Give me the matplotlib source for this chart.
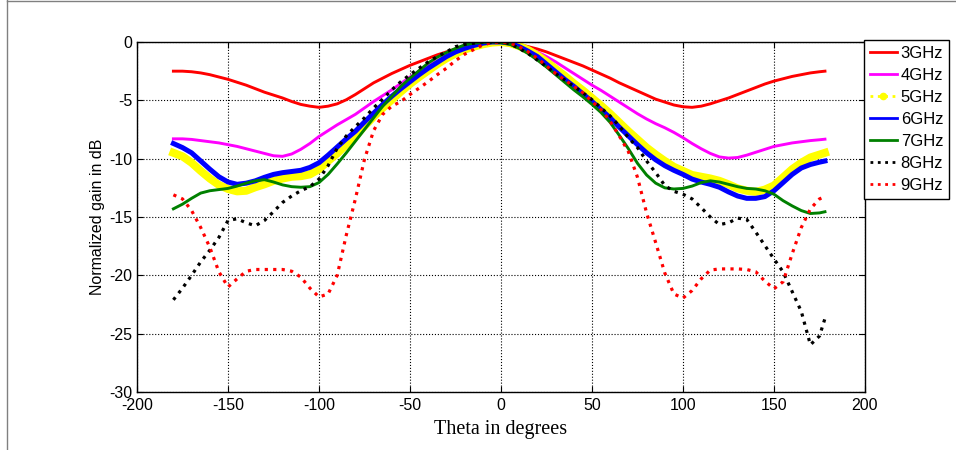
import matplotlib
matplotlib.use('Agg')
import matplotlib.pyplot as plt
from matplotlib.lines import Line2D

plt.rcParams['axes.unicode_minus'] = False
plt.rcParams['font.family'] = ['Liberation Sans', 'DejaVu Sans']

# angle grid (deg), 5 degree steps
theta = [-180, -175, -170, -165, -160, -155, -150, -145, -140, -135,
         -130, -125, -120, -115, -110, -105, -100, -95, -90, -85,
         -80, -75, -70, -65, -60, -55, -50, -45, -40, -35,
         -30, -25, -20, -15, -10, -5, 0,
         5, 10, 15, 20, 25, 30, 35, 40, 45, 50,
         55, 60, 65, 70, 75, 80, 85, 90, 95, 100,
         105, 110, 115, 120, 125, 130, 135, 140, 145, 150,
         155, 160, 165, 170, 175, 178]

g3 = [-2.5, -2.5, -2.55, -2.65, -2.8, -3.0, -3.2, -3.45, -3.7, -4.0,
      -4.3, -4.55, -4.8, -5.1, -5.35, -5.5, -5.6, -5.5, -5.3, -4.95,
      -4.5, -4.0, -3.5, -3.1, -2.7, -2.35, -2.0, -1.7, -1.4, -1.1,
      -0.85, -0.6, -0.4, -0.25, -0.15, -0.05, 0,
      -0.05, -0.2, -0.4, -0.6, -0.85, -1.15, -1.45, -1.75, -2.05, -2.4,
      -2.75, -3.1, -3.5, -3.85, -4.2, -4.55, -4.9, -5.15, -5.4, -5.55,
      -5.6, -5.5, -5.3, -5.05, -4.8, -4.5, -4.2, -3.9, -3.6, -3.35,
      -3.15, -2.95, -2.8, -2.65, -2.55, -2.5]

g4 = [-8.3, -8.3, -8.35, -8.45, -8.55, -8.65, -8.8, -8.95, -9.15, -9.35,
      -9.55, -9.75, -9.8, -9.6, -9.2, -8.7, -8.1, -7.6, -7.1, -6.65,
      -6.2, -5.65, -5.1, -4.6, -4.1, -3.55, -3.0, -2.5, -2.0, -1.6,
      -1.2, -0.85, -0.55, -0.35, -0.2, -0.05, 0,
      -0.1, -0.25, -0.5, -0.85, -1.25, -1.7, -2.2, -2.7, -3.2, -3.7,
      -4.15, -4.65, -5.15, -5.65, -6.15, -6.6, -7.0, -7.35, -7.75, -8.2,
      -8.7, -9.15, -9.55, -9.85, -9.95, -9.9, -9.7, -9.45, -9.2, -8.95,
      -8.8, -8.65, -8.55, -8.45, -8.38, -8.33]

g5 = [-9.5, -9.8, -10.35, -11.05, -11.7, -12.25, -12.6, -12.8, -12.75, -12.45,
      -12.2, -11.9, -11.7, -11.55, -11.5, -11.35, -10.9, -10.2, -9.55, -8.8,
      -8.05, -7.2, -6.4, -5.65, -4.95, -4.25, -3.6, -3.0, -2.45, -1.9,
      -1.4, -1.0, -0.65, -0.4, -0.2, -0.05, 0,
      -0.1, -0.35, -0.7, -1.15, -1.7, -2.3, -2.9, -3.55, -4.15, -4.8,
      -5.45, -6.15, -6.9, -7.65, -8.35, -9.05, -9.65, -10.2, -10.7, -11.05,
      -11.4, -11.55, -11.7, -11.9, -12.2, -12.55, -12.75, -12.85, -12.65, -12.3,
      -11.6, -10.9, -10.35, -9.9, -9.65, -9.5]

g6 = [-8.7, -9.05, -9.5, -10.2, -10.9, -11.55, -12.0, -12.2, -12.1, -11.9,
      -11.6, -11.35, -11.2, -11.1, -11.0, -10.75, -10.35, -9.7, -9.0, -8.3,
      -7.65, -6.85, -6.1, -5.35, -4.65, -4.0, -3.4, -2.8, -2.25, -1.75,
      -1.25, -0.85, -0.55, -0.3, -0.1, 0, 0,
      -0.1, -0.4, -0.8, -1.25, -1.9, -2.55, -3.2, -3.8, -4.45, -5.1,
      -5.8, -6.5, -7.3, -8.05, -8.8, -9.5, -10.1, -10.6, -11.0, -11.35,
      -11.75, -12.0, -12.2, -12.45, -12.85, -13.2, -13.4, -13.4, -13.25, -12.75,
      -12.05, -11.35, -10.8, -10.5, -10.3, -10.2]

g7 = [-14.3, -13.9, -13.4, -12.95, -12.75, -12.65, -12.55, -12.35, -12.1, -11.9,
      -11.8, -12.0, -12.25, -12.4, -12.45, -12.4, -12.05, -11.35, -10.45, -9.5,
      -8.5, -7.5, -6.5, -5.5, -4.65, -3.8, -3.1, -2.45, -1.8, -1.3,
      -0.9, -0.55, -0.25, -0.1, -0.05, 0, -0.05,
      -0.2, -0.55, -1.0, -1.55, -2.15, -2.8, -3.45, -4.1, -4.7, -5.35,
      -6.05, -6.9, -8.0, -9.15, -10.4, -11.4, -12.1, -12.5, -12.6, -12.55,
      -12.35, -12.05, -11.9, -12.0, -12.2, -12.4, -12.55, -12.6, -12.75, -13.05,
      -13.6, -14.05, -14.45, -14.7, -14.65, -14.55]

g8 = [-22.1, -21.1, -20.0, -18.85, -17.85, -16.75, -15.3, -15.15, -15.5, -15.75,
      -15.3, -14.55, -13.75, -13.2, -12.75, -12.4, -11.75, -10.6, -9.1, -8.05,
      -7.25, -6.5, -5.65, -4.9, -4.1, -3.4, -2.8, -2.25, -1.7, -1.25,
      -0.85, -0.4, -0.2, -0.1, 0, 0, 0,
      -0.15, -0.55, -1.0, -1.55, -2.1, -2.7, -3.25, -3.8, -4.35, -4.95,
      -5.65, -6.35, -7.2, -8.2, -9.05, -10.2, -11.2, -12.3, -12.8, -13.05,
      -13.45, -14.2, -15.0, -15.65, -15.5, -15.1, -15.2, -16.3, -17.45, -18.6,
      -19.7, -21.4, -23.1, -25.95, -25.2, -23.7]

g9 = [-13.1, -13.45, -14.45, -15.9, -17.6, -19.7, -21.0, -20.3, -19.65, -19.5,
      -19.5, -19.5, -19.5, -19.65, -20.15, -21.1, -21.85, -21.6, -20.0, -16.55,
      -13.45, -10.05, -7.6, -6.2, -5.5, -5.1, -4.5, -3.95, -3.4, -2.8,
      -2.25, -1.6, -1.05, -0.65, -0.25, -0.05, 0,
      -0.1, -0.4, -0.85, -1.4, -2.05, -2.7, -3.25, -3.8, -4.35, -5.1,
      -5.8, -6.8, -8.05, -9.4, -11.6, -14.65, -17.2, -19.8, -21.6, -21.95,
      -21.3, -20.3, -19.55, -19.45, -19.45, -19.45, -19.5, -19.7, -20.5, -21.15,
      -20.55, -18.15, -15.9, -14.3, -13.45, -13.25]

fig = plt.figure(figsize=(9.56, 4.5), dpi=100)
ax = fig.add_axes([137/956, 58/450, 728/956, 350/450])

ax.plot(theta, g3, color='red', lw=2.1)
ax.plot(theta, g4, color='magenta', lw=2.1)
ax.plot(theta, g5, color='yellow', lw=5.8, solid_joinstyle='round')
ax.plot(theta, g6, color='blue', lw=3.6, solid_joinstyle='round')
ax.plot(theta, g7, color='green', lw=2.1)
ax.plot(theta, g8, color='black', lw=2.3, ls=':')
ax.plot(theta, g9, color='red', lw=2.3, ls=':')

ax.set_xlim(-200, 200)
ax.set_ylim(-30, 0)
ax.set_xticks(range(-200, 201, 50))
ax.set_yticks(range(-30, 1, 5))
ax.tick_params(direction='in', top=True, right=True, labelsize=11.5, length=4)
ax.tick_params(axis='x', pad=4.5)
ax.grid(True, color='black', ls=':', lw=0.8)
for s in ax.spines.values():
    s.set_linewidth(1)

ax.set_ylabel('Normalized gain in dB', fontsize=11.5, labelpad=3)
ax.set_xlabel('Theta in degrees', fontsize=14.5, family=['Liberation Serif'], labelpad=5)

handles = [
    Line2D([], [], color='red', lw=2),
    Line2D([], [], color='magenta', lw=2),
    Line2D([], [], color='yellow', lw=2, ls=':', marker='.', markersize=9, markevery=[1]),
    Line2D([], [], color='blue', lw=2),
    Line2D([], [], color='green', lw=2),
    Line2D([], [], color='black', lw=2, ls=':'),
    Line2D([], [], color='red', lw=2, ls=':'),
]
labels = ['3GHz', '4GHz', '5GHz', '6GHz', '7GHz', '8GHz', '9GHz']
leg = fig.legend(handles, labels, loc='upper left', bbox_to_anchor=(864/956, 1 - 40/450),
                 fontsize=12, frameon=True, fancybox=False, framealpha=1,
                 edgecolor='black', borderpad=0.35, labelspacing=0.42,
                 handlelength=1.6, handletextpad=0.25, borderaxespad=0)
leg.get_frame().set_linewidth(1)

# outer frame
fig.add_artist(Line2D([6.5/956, 6.5/956], [0, 1], transform=fig.transFigure, color='gray', lw=1))
fig.add_artist(Line2D([6.5/956, 1], [449/450, 449/450], transform=fig.transFigure, color='gray', lw=1))

fig.savefig('out.png', dpi=100)
